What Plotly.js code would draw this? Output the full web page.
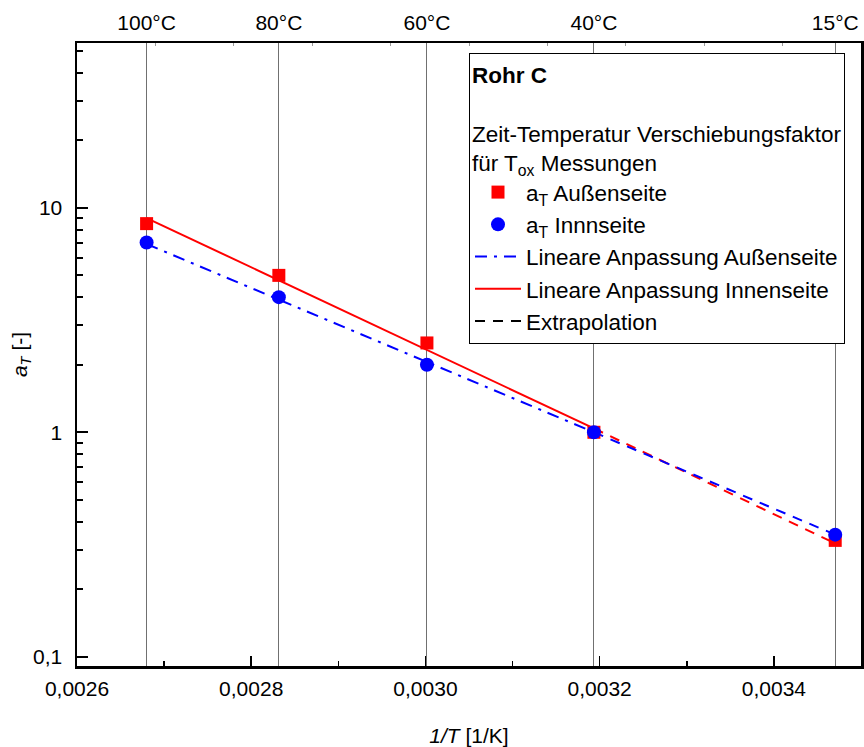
<!DOCTYPE html>
<html>
<head>
<meta charset="utf-8">
<script src="https://cdn.plot.ly/plotly-3.0.1.min.js"></script>
<style>html,body{margin:0;padding:0;background:#fff;}#chart{width:864px;height:747px;}</style>
</head>
<body>
<div id="chart"></div>
<script>
// ---- data ----
const tempLabels = ['100°C', '80°C', '60°C', '40°C', '15°C'];
const invT = [0.0026799, 0.0028317, 0.0030017, 0.0031934, 0.0034704];   // 1/T [1/K]
const aAussen = [8.5, 5.0, 2.5, 1.0, 0.33];                           // a_T Außenseite (red squares)
const aInnen  = [7.0, 4.0, 2.0, 1.0, 0.35];                           // a_T Innnseite (blue circles)

const fitX = [0.0026799, 0.0031934];
const fitAussenY = [6.9, 1.0];    // blue dash-dot "Lineare Anpassung Außenseite"
const fitInnenY  = [9.0, 1.04];   // red solid "Lineare Anpassung Innenseite"
const extrapX = [0.0031934, 0.0034704];
const extrapBlueY = [1.0, 0.35];
const extrapRedY  = [1.04, 0.32];

const xTickVals = [0.0026, 0.0028, 0.0030, 0.0032, 0.0034];
const xTickText = ['0,0026', '0,0028', '0,0030', '0,0032', '0,0034'];
const xMinorVals = [0.0027, 0.0029, 0.0031, 0.0033];
const yTickVals = [0.1, 1, 10];
const yTickText = ['0,1', '1', '10'];
const xRange = [0.0026, 0.0035];

// minor log ticks 2..9 per decade
const yMinor = [];
[0.01, 0.1, 1, 10].forEach(d => { for (let k = 2; k <= 9; k++) yMinor.push(k * d); });
// top axis: 10 equal divisions
const topMinor = [];
for (let k = 1; k < 10; k++) topMinor.push(xRange[0] + k * (xRange[1] - xRange[0]) / 10);

const RED = '#ff0000', BLUE = '#0000ff';
const FONT = 'Liberation Sans, Arial, Helvetica, sans-serif';

const traces = [
  {x: fitX, y: fitInnenY, mode: 'lines', name: 'Lineare Anpassung Innenseite',
   line: {color: RED, width: 2}, legendrank: 4},
  {x: extrapX, y: extrapRedY, mode: 'lines', showlegend: false,
   line: {color: RED, width: 2, dash: '10px,8px'}},
  {x: fitX, y: fitAussenY, mode: 'lines', name: 'Lineare Anpassung Außenseite',
   line: {color: BLUE, width: 2, dash: '12px,7px,3px,7px'}, legendrank: 3},
  {x: extrapX, y: extrapBlueY, mode: 'lines', showlegend: false,
   line: {color: BLUE, width: 2, dash: '10px,8px'}},
  {x: [null], y: [null], mode: 'lines', name: 'Extrapolation',
   line: {color: '#000', width: 2, dash: '10px,8px'}, legendrank: 5},
  {x: invT, y: aAussen, mode: 'markers', name: 'a<sub>T</sub> Außenseite',
   marker: {symbol: 'square', size: 13, color: RED}, legendrank: 1},
  {x: invT, y: aInnen, mode: 'markers', name: 'a<sub>T</sub> Innnseite',
   marker: {symbol: 'circle', size: 14, color: BLUE}, legendrank: 2},
  // invisible trace that activates the top (temperature) axis
  {x: [invT[0]], y: [aAussen[0]], xaxis: 'x2', mode: 'markers', showlegend: false,
   marker: {opacity: 0}, hoverinfo: 'skip'}
];

const layout = {
  width: 864, height: 747,
  margin: {l: 77, r: 3, t: 43, b: 81, pad: 0},
  paper_bgcolor: '#fff', plot_bgcolor: '#fff',
  font: {family: FONT, size: 22, color: '#000'},
  separators: ',.',
  showlegend: true,
  xaxis: {
    range: xRange, showgrid: false, zeroline: false,
    showline: true, linecolor: '#000', linewidth: 2.5, mirror: true,
    tickmode: 'array', tickvals: xTickVals, ticktext: xTickText,
    ticks: 'inside', ticklen: 10, tickwidth: 1.5, tickcolor: '#000',
    minor: {tickvals: xMinorVals, ticks: 'inside', ticklen: 5, tickwidth: 1.5, tickcolor: '#000', showgrid: false},
    tickfont: {size: 21}, ticklabelstandoff: 2,
    title: {text: '<i>1/T</i> [1/K]', font: {size: 21}, standoff: 30}
  },
  xaxis2: {
    overlaying: 'x', side: 'top', range: xRange, matches: 'x',
    tickmode: 'array', tickvals: invT, ticktext: tempLabels,
    ticks: '', showline: false, zeroline: false,
    showgrid: true, gridcolor: '#707070', gridwidth: 1,
    minor: {tickvals: topMinor, ticks: 'inside', ticklen: 3, tickwidth: 1, tickcolor: '#999', showgrid: false},
    tickfont: {size: 21}, ticklabelstandoff: 8
  },
  yaxis: {
    type: 'log', range: [-1.041, 1.734], showgrid: false, zeroline: false,
    showline: true, linecolor: '#000', linewidth: 2.5, mirror: true,
    tickmode: 'array', tickvals: yTickVals, ticktext: yTickText,
    ticks: 'inside', ticklen: 11, tickwidth: 2, tickcolor: '#000',
    minor: {tickvals: yMinor, ticks: 'inside', ticklen: 6, tickwidth: 2, tickcolor: '#000', showgrid: false},
    tickfont: {size: 21}, ticklabelstandoff: 8,
    title: {text: '<i>a<sub>T</sub></i> [-]', font: {size: 21}, standoff: 0}
  },
  legend: {
    x: 0.5, xanchor: 'left', y: 0.984, yanchor: 'top',
    bgcolor: '#fff', bordercolor: '#000', borderwidth: 1,
    font: {family: FONT, size: 22.5, color: '#000'},
    itemwidth: 46, tracegroupgap: 0,
    title: {text: '<b>Rohr C</b><br><br>Zeit-Temperatur Verschiebungsfaktor<br>für T<sub>ox</sub> Messungen',
            font: {family: FONT, size: 22.5, color: '#000'}}
  }
};

Plotly.newPlot('chart', traces, layout, {displayModeBar: false, staticPlot: true});
</script>
</body>
</html>
